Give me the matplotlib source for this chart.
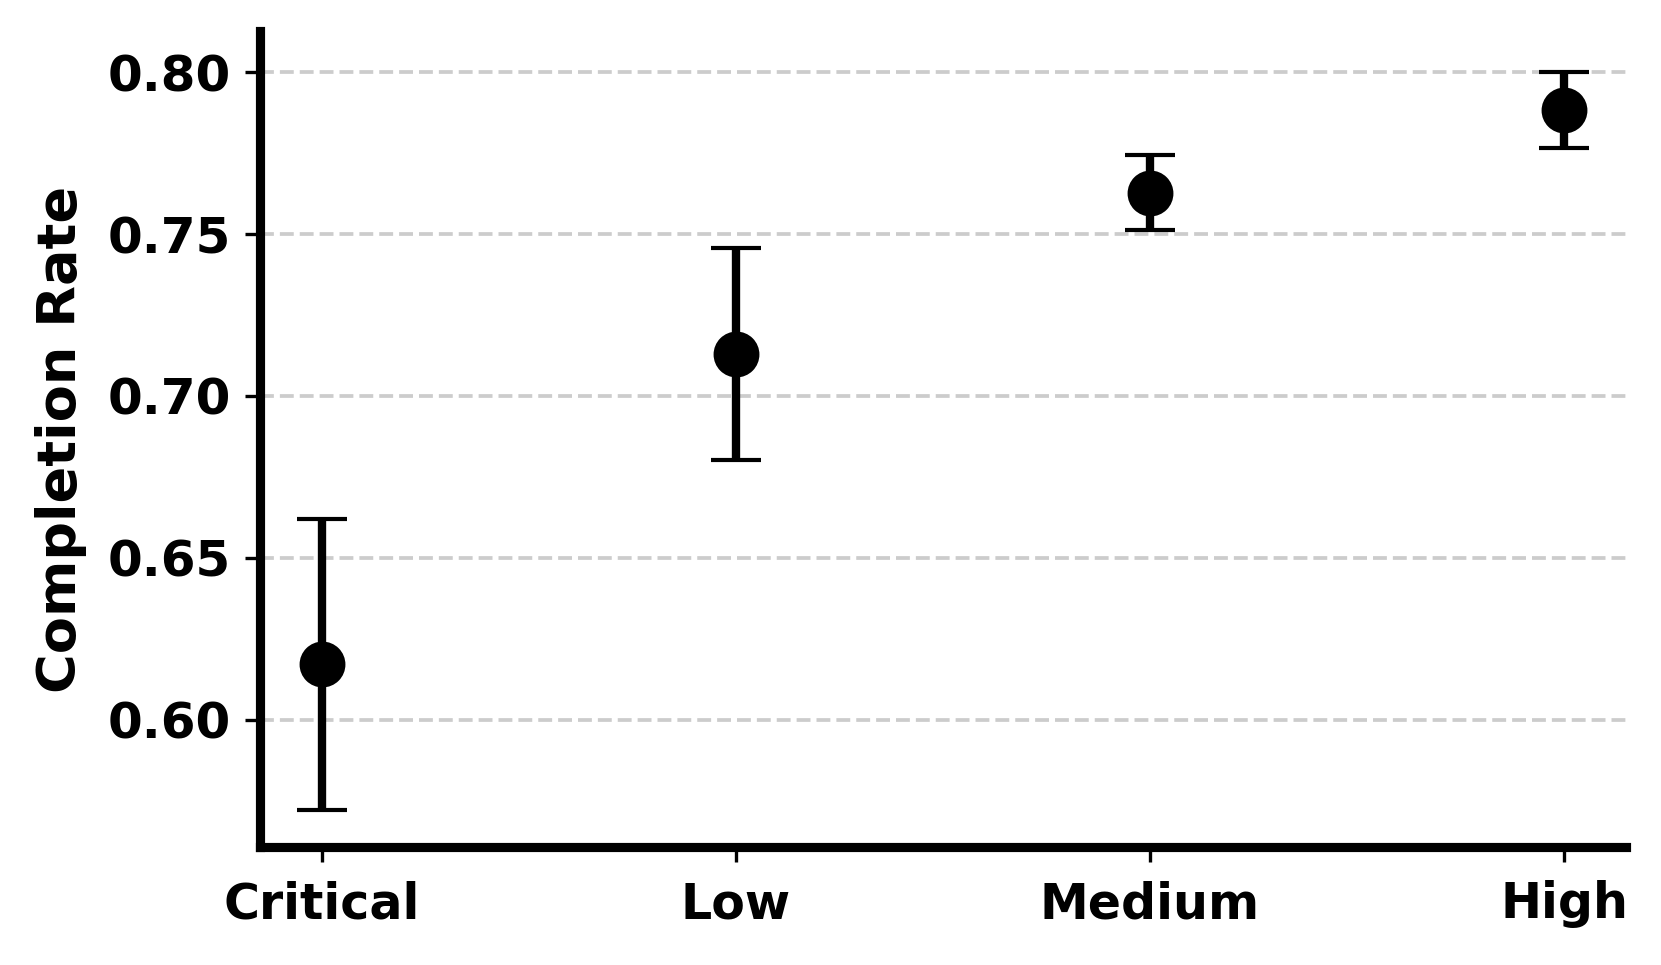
import matplotlib
matplotlib.use("Agg")
import matplotlib.pyplot as plt

plt.rcParams["font.family"] = "DejaVu Sans"
plt.rcParams["font.weight"] = "bold"

categories = ["Critical", "Low", "Medium", "High"]
completion_rate = [0.6171, 0.7130, 0.7629, 0.7883]
rate_err = [0.0450, 0.0328, 0.0117, 0.0117]

fig = plt.figure(figsize=(1661 / 300, 965 / 300), dpi=300)
ax = fig.add_axes([0.1565, 0.1223, 0.8225, 0.8455])

ax.errorbar(categories, completion_rate, yerr=rate_err, fmt="o", color="black",
            markersize=10, elinewidth=2, capsize=6, zorder=3)

ax.grid(axis="y", linestyle="--", color="#cccccc", linewidth=0.9)
ax.set_axisbelow(True)
ax.set_yticks([0.60, 0.65, 0.70, 0.75, 0.80])
ax.set_ylim(0.5606, 0.8128)
ax.set_ylabel("Completion Rate", fontsize=13, fontweight="bold", labelpad=5)
ax.tick_params(axis="y", labelsize=12)
ax.tick_params(axis="x", labelsize=11.75, pad=4.5)
for lab in ax.get_xticklabels() + ax.get_yticklabels():
    lab.set_fontweight("bold")

for side in ["top", "right"]:
    ax.spines[side].set_visible(False)
for side in ["left", "bottom"]:
    ax.spines[side].set_linewidth(2.2)

fig.savefig("out.png", dpi=300)
